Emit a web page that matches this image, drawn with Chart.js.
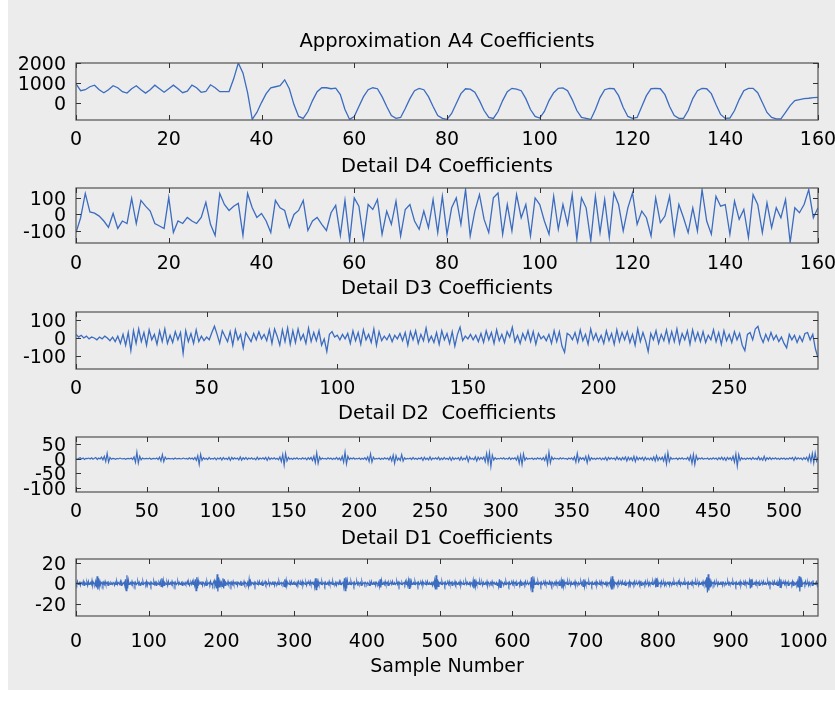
<!DOCTYPE html>
<html>
<head>
<meta charset="utf-8">
<script src="https://cdn.jsdelivr.net/npm/chart.js@4/dist/chart.umd.min.js"></script>
<style>
  html, body { margin: 0; padding: 0; background: #ffffff; }
  #page { position: relative; width: 835px; height: 705px; overflow: hidden; background: #ffffff; }
  #panel { position: absolute; left: 8px; top: 0; width: 827px; height: 690px; background: #ececec; }
  canvas { position: absolute; left: 0; }
</style>
</head>
<body>
<div id="page">
  <div id="panel"></div>
  <canvas id="cA4" width="894" height="120" style="top:30px"></canvas>
  <canvas id="cD4" width="894" height="118" style="top:155px"></canvas>
  <canvas id="cD3" width="894" height="122" style="top:277px"></canvas>
  <canvas id="cD2" width="894" height="120" style="top:402px"></canvas>
  <canvas id="cD1" width="894" height="151" style="top:527px"></canvas>
</div>
<script>
// ---- Wavelet decomposition coefficients (level 4) ----

const A4 = [
  950, 600, 650, 800, 880, 650, 500, 650, 850, 750,
  550, 480, 700, 850, 650, 480, 650, 880, 700, 520,
  700, 880, 700, 500, 580, 880, 750, 520, 560, 900,
  750, 550, 550, 560, 1200, 2000, 1500, 500, -850, -500,
  0, 450, 750, 800, 850, 1150, 700, -100, -700, -800,
  -450, 100, 550, 750, 750, 700, 730, 400, -350, -850,
  -700, -200, 300, 650, 750, 700, 300, -200, -650, -800,
  -750, -300, 200, 600, 720, 650, 300, -200, -650, -800,
  -850, -550, -50, 450, 700, 680, 520, 100, -400, -750,
  -800, -450, 100, 550, 720, 680, 600, 200, -350, -700,
  -780, -450, 100, 500, 720, 740, 600, 150, -400, -750,
  -800, -850, -350, 250, 650, 720, 700, 350, -250, -700,
  -800, -750, -200, 350, 700, 720, 700, 400, -200, -650,
  -800, -800, -400, 200, 600, 720, 700, 450, -100, -600,
  -800, -780, -400, 150, 600, 720, 720, 500, 0, -500,
  -750, -820, -820, -500, -150, 100, 150, 200, 220, 250,
  260
];

const D4 = [
  -110, -20, 127, 15, 8, -10, -40, -78, 6, -85,
  -40, -55, 97, -55, 85, 50, 20, -55, -70, -85,
  103, -109, -40, -55, -18, -40, -55, -18, 73, -60,
  -127, 127, 60, 24, 50, 67, -127, 127, 40, -18,
  6, -40, -109, 85, 40, 24, -78, 0, 24, 85,
  -97, -40, -18, -60, -97, 10, 55, -127, 85, -160,
  100, 50, -150, 60, 30, 90, -120, 20, -60, 80,
  -130, 30, 60, -40, -90, 20, -80, 90, -110, 110,
  -120, 40, 100, -60, 150, -130, 20, 120, -30, -110,
  100, 130, -120, 60, -100, 120, -20, 60, -130, 100,
  60, -40, -120, 110, -90, 60, -60, 120, -150, 100,
  40, -160, 110, -110, 90, -140, 130, 60, -100, 40,
  130, -60, 20, -20, -130, 100, -50, -10, 110, -120,
  60, -20, -110, 40, -100, 150, -40, -120, 110, 50,
  60, -120, 80, -30, 30, -140, 120, 60, -110, 70,
  -80, 40, -20, 90, -170, 40, 10, 60, 150, -20,
  40
];

const D3 = [
  20, 5, 15, 0, 10, -5, 5, 0, -10, 5, -5, 10, 0, -15, 5, -20, 10, -30, 20, -40,
  30, -70, 40, -30, 50, -20, 30, -40, 45, -10, 20, -35, 40, -20, 50, -30, 15, -25, 35, -10,
  30, -85, 40, -20, 25, -30, 45, -20, 10, -15, 5, -10, 30, 65, 20, -30, 40, 10, -20, 35,
  -40, 45, -10, 20, -55, 30, 5, -20, 25, -10, 35, -5, 20, -15, 45, -30, 50, 10, -40, 45,
  -20, 55, -35, 40, -25, 50, -10, 20, -30, 55, -20, 30, -15, 40, -40, -5, -75, 20, 35, 5,
  15, -10, 20, -5, 25, -30, 40, -15, 30, -35, 45, -10, 20, -25, 50, -40, 35, -15, 10, -10,
  20, -20, 15, -5, 25, -15, 30, -40, 35, -10, 40, -30, 20, -15, 55, -20, 10, -25, 30, -35,
  40, -10, 25, -30, 35, -45, 20, 60, -15, 10, -5, 20, -10, 15, -20, 25, -25, 40, -10, 30,
  -30, 45, -15, 20, -25, 35, 5, 60, -20, 15, -30, 25, -10, 40, -20, 35, -35, 25, -5, 10,
  -15, 20, -30, 40, -20, 35, -45, -80, 25, 15, -10, 30, -25, 45, -15, 20, -35, 50, -10, 25,
  -20, 15, -30, 40, -15, 25, -35, 45, -20, 30, -10, 35, -25, 20, -40, 50, -20, 30, -15, -75,
  25, -10, 40, -30, 20, -15, 45, -25, 35, -20, 50, -30, 25, -10, 40, -35, 45, -15, 30, -20,
  35, -25, 15, -10, 45, -20, 30, -35, 40, -15, 20, -25, 35, -10, 25, -40, -70, 20, 30, -10,
  50, 65, 10, -25, 20, -15, 30, -10, 15, -20, 5, -30, -55, 20, -10, 15, -25, 10, -20, 25,
  30, -10, 20, -60, -110
];

const D2 = [
  0, -2, 1, 3, -1, 2, -3, 1, 0, 2, -1, 3, -2, 1, 4, -3, 2, -1, 5, -4, 8, -10, 18, -12, 4,
  -2, 1, 0, -2, 1, -1, 2, 0, -1, 1, -2, 0, 1, -1, 2, -3, 6, -12, 22, -15, 8, -4, 2, -1, 0,
  1, -1, 2, -2, 0, 1, -1, 2, -3, 5, -8, 14, -10, 5, -2, 1, 0, -1, 1, -2, 2, -1, 0, 1, -1,
  0, 2, -1, 1, -2, 3, -1, 2, -3, 4, -6, 10, -20, 15, -6, 3, -2, 1, -3, 4, -2, 1, -1, 3, -4,
  2, -1, 3, -5, 4, -2, 1, -3, 5, -6, 4, -2, 3, -1, 2, -4, 6, -5, 3, -2, 4, -3, 2, -1, 3,
  -2, 1, -4, 5, -3, 2, -1, 3, -2, 4, -6, 5, -3, 2, -1, 3, -2, 1, -4, 6, -10, 14, -22, 18, -8,
  4, -2, 1, -3, 2, -1, 3, -2, 1, -2, 3, -1, 2, -4, 3, -2, 4, -6, 8, -14, 20, -16, 6, -3, 2,
  -1, 1, -2, 3, -1, 2, -3, 1, -2, 4, -3, 2, -5, 8, -12, 22, -18, 8, -3, 2, -1, 3, -2, 1, -1,
  2, -3, 1, -2, 3, -4, 6, -10, 16, -12, 5, -2, 1, -1, 2, -3, 1, -2, 3, -1, 2, -4, 6, -8, 12,
  -16, 10, -5, 2, -6, 14, -8, 3, -2, 1, -1, 2, -3, 4, -2, 1, -3, 2, -1, 4, -6, 5, -3, 2, -4,
  6, -4, 2, -1, 3, -2, 5, -4, 2, -3, 4, -2, 1, -3, 5, -6, 4, -3, 2, -1, 3, -5, 6, -4, 2,
  -3, 8, -10, 6, -2, 1, -4, 6, -8, 5, -3, 4, -2, 6, -10, 18, -14, 20, -27, 12, -5, 3, -2, 1, -1,
  2, -1, 3, -2, 1, -2, 4, -3, 2, -1, 3, -5, 8, -16, 12, -20, 16, -6, 3, -2, 1, -1, 2, -3, 1,
  -2, 3, -1, 2, -4, 3, -6, 10, -18, 22, -14, 6, -3, 2, -1, 1, -2, 3, -1, 2, -1, 1, -3, 2, -1,
  3, -4, 6, -12, 18, -10, 4, -2, 3, -5, 8, -14, 10, -6, 3, -2, 1, -3, 2, -1, 3, -4, 2, -3, 5,
  -6, 4, -2, 3, -1, 2, -4, 6, -3, 2, -5, 4, -3, 6, -8, 5, -4, 3, -6, 8, -10, 6, -4, 3, -2,
  4, -6, 5, -3, 2, -4, 3, -5, 6, -8, 10, -6, 4, -3, 5, -8, 12, -18, 20, -10, 4, -2, 1, -1, 2,
  -3, 2, -1, 3, -2, 1, -2, 4, -6, 10, -16, 14, -20, 10, -4, 2, -1, 3, -2, 1, -1, 2, -3, 1, -2,
  3, -1, 2, -4, 3, -2, 5, -4, 3, -6, 4, -2, 3, -5, 8, -12, 16, -25, 14, -6, 3, -2, 1, -3, 2,
  -1, 2, -3, 4, -2, 1, -3, 6, -4, 2, -5, 8, -6, 3, -2, 4, -3, 2, -1, 3, -2, 1, -3, 2, -1,
  2, -3, 1, -2, 3, -1, 4, -6, 5, -2, 3, -1, 2, -4, 3, -2, 5, -8, 12, -10, 18, -14, 20, -8, 4
];

const D1 = [
  1,-1,2,-1,0,1,-2,1,0,-1,2,-2,1,0,-1,1,-2,2,-1,0,1,-1,3,-2,1,0,-1,2,-4,7,-6,5,-3,2,-1,0,1,-2,1,-1,2,-1,0,1,-2,1,0,-1,1,0,
  -1,1,0,-2,1,-1,2,-1,1,0,-1,2,-2,1,-1,0,1,-2,4,-7,8,-5,3,-1,0,1,-1,2,-1,0,1,-2,1,-1,0,2,-1,1,-2,0,1,-1,2,-1,0,1,-1,2,-2,1,
  0,-1,1,-2,1,0,-1,2,-1,1,-2,1,0,-1,1,-1,2,-3,5,-4,3,-2,1,0,-1,1,-2,2,-1,0,1,-1,2,-1,0,1,-2,1,-1,0,2,-1,1,-1,0,1,-2,1,0,-1,
  1,-1,0,2,-1,1,-2,0,1,-1,2,-1,1,-2,4,-7,6,-5,3,-1,0,1,-1,2,-2,1,0,-1,1,-2,2,-1,0,1,-1,2,-1,0,-2,1,3,-2,1,-5,9,-8,6,-4,2,-1,
  1,-3,5,-5,4,-2,1,0,-1,2,-1,0,1,-2,1,-1,2,-1,0,1,-1,2,-2,1,0,-1,1,-2,1,0,-1,2,-1,1,0,-1,1,-3,4,-3,2,-1,1,0,-1,1,-2,1,0,-1,
  1,-1,2,-1,0,1,-2,1,-1,0,2,-1,1,-1,0,1,-2,1,0,-1,1,-1,2,-2,1,0,-1,1,-1,2,-1,0,1,-1,0,1,-3,4,-4,3,-2,1,0,-1,1,-1,2,-1,0,1,
  -1,1,0,-2,1,-1,2,0,-1,1,-1,2,-2,1,0,-1,1,-2,1,0,1,-1,2,-1,0,1,-1,2,-3,5,-6,5,-4,2,-1,0,1,-1,2,-1,0,1,-2,1,-1,0,1,-1,2,-1,
  0,1,-1,2,-1,0,-1,1,-2,1,0,-1,2,-1,1,-1,0,2,-3,5,-7,6,-5,3,-1,0,1,-1,2,-1,0,1,-2,1,-1,0,2,-1,1,-1,0,1,-2,2,-1,0,1,-1,1,0,
  -1,1,0,-2,1,-1,2,-1,0,1,-1,2,-2,1,0,-1,1,-3,4,-4,3,-1,0,1,-1,2,-1,0,1,-2,1,-1,0,1,-1,2,-1,0,1,-1,0,2,-1,1,-2,1,0,-1,1,-1,
  0,1,-1,2,-1,1,-2,3,-5,5,-4,2,-1,0,1,-1,2,-1,0,1,-2,1,-1,0,1,-1,2,-2,1,0,-1,1,-1,2,-1,0,1,-1,0,1,-2,1,-1,3,-6,8,-6,4,-3,1,
  0,1,-1,2,-1,0,1,-2,1,-1,0,1,-1,2,-1,0,1,-2,1,0,-1,2,-1,1,-1,0,1,-1,2,-2,1,0,-1,1,-1,0,2,-1,1,-1,0,1,-2,1,0,-2,3,-5,4,-3,
  2,-1,0,1,-1,2,-1,0,1,-2,1,-1,0,1,-1,2,-2,1,0,-1,1,-1,2,-1,0,1,-1,0,1,-2,1,-3,4,-4,3,-2,1,0,-1,1,-1,2,-1,0,1,-2,1,-1,0,1,
  -1,2,-1,0,1,-2,1,-1,0,1,-1,2,-2,1,0,-1,1,-1,2,-1,0,1,-1,0,2,-3,6,-8,7,-5,3,-1,0,1,-1,2,-1,0,1,-2,1,-1,0,1,-1,2,-1,0,1,-1,
  0,2,-1,1,-2,1,0,-1,1,-1,2,-1,0,1,-2,1,-1,3,-5,4,-3,2,-1,0,1,-1,2,-1,0,1,-2,1,-1,0,1,-1,2,-2,1,0,-1,1,-1,0,2,-1,1,-3,4,-3,
  2,-1,0,1,-1,2,-1,0,1,-2,1,-1,0,1,-1,2,-2,1,0,-1,1,-1,2,-1,0,1,-1,0,1,-2,1,-1,0,1,-1,3,-6,7,-6,4,-2,1,0,-1,1,-1,2,-1,0,1,
  -1,2,-1,0,1,-2,1,-1,0,1,-1,2,-2,1,0,-1,1,-1,2,-1,0,1,-1,0,2,-1,1,-2,1,0,-1,1,-1,2,-1,0,1,-2,1,-1,0,1,-1,2,-1,0,3,-4,5,-3,
  2,-1,0,1,-1,2,-1,0,1,-2,1,-1,0,1,-1,2,-2,1,0,-1,1,-1,2,-1,0,1,-1,0,2,-1,1,-2,1,0,-1,1,-1,2,-1,0,1,-2,1,-1,0,1,-1,2,-1,0,
  1,-1,2,-1,0,1,-2,1,-1,0,1,-1,2,-1,0,2,-4,6,-9,9,-7,5,-4,2,-1,0,1,-1,2,-1,0,1,-2,1,-1,0,1,-1,2,-2,1,0,-1,1,-1,0,2,-1,1,-1,
  0,1,-1,2,-1,0,1,-2,1,-1,0,1,-1,2,-2,1,0,-1,1,-1,2,-1,0,1,-1,0,3,-5,4,-4,2,-1,0,1,-1,2,-1,0,1,-2,1,-1,0,1,-1,2,-1,0,1,-1,
  0,2,-1,1,-2,1,0,-1,1,-1,2,-1,0,1,-2,1,-1,3,-4,4,-2,1,0,1,-1,2,-1,0,1,-2,1,-1,0,1,-1,2,-2,1,0,-1,1,-1,2,-4,7,-8,6,-3,2,-1,
  0,1,-1,2,-1,0,1,-2,1,-1,0,1,-2,3,-1,0,-1,1,2,-2,1
];

// ---- Axis ranges and tick labels ----
const X_TICKS_160 = [0, 20, 40, 60, 80, 100, 120, 140, 160];
const X_TICKS_D3 = [0, 50, 100, 150, 200, 250];
const X_TICKS_D2 = [0, 50, 100, 150, 200, 250, 300, 350, 400, 450, 500];
const X_TICKS_D1 = [0, 100, 200, 300, 400, 500, 600, 700, 800, 900, 1000];

const Y_TICKS_A4 = [0, 1000, 2000];
const Y_TICKS_D4 = [-100, 0, 100];
const Y_TICKS_D3 = [-100, 0, 100];
const Y_TICKS_D2 = [-100, -50, 0, 50];
const Y_TICKS_D1 = [-20, 0, 20];

const X_MAX = { A4: 160, D4: 160, D3: 284, D2: 524, D1: 1020 };
const Y_RANGE = {
  A4: [-880, 2000],
  D4: [-173, 160],
  D3: [-172, 144],
  D2: [-114, 74],
  D1: [-32, 24]
};

const TITLES = {
  A4: 'Approximation A4 Coefficients',
  D4: 'Detail D4 Coefficients',
  D3: 'Detail D3 Coefficients',
  D2: 'Detail D2  Coefficients',
  D1: 'Detail D1 Coefficients'
};
const X_AXIS_TITLE = 'Sample Number';

// ---- Styling ----
const FONT_FAMILY = '"DejaVu Sans", Verdana, sans-serif';
const LINE_COLOR = '#3b6cc0';
const FRAME_COLOR = '#5c5c5c';
const AXIS_GUTTER = 76;   // width of the tick-label column; mirrored on the right so titles centre over the plot

Chart.defaults.font.family = FONT_FAMILY;
Chart.defaults.color = '#000';

// Draws the box around the plot area and the short inward tick marks on all four sides.
const frameBox = {
  id: 'frameBox',
  afterDatasetsDraw(chart) {
    const { ctx, chartArea: a, scales } = chart;
    const xs = scales.x, ys = scales.y;
    ctx.save();
    ctx.strokeStyle = FRAME_COLOR;
    ctx.lineWidth = 1.3;
    ctx.strokeRect(a.left, a.top, a.right - a.left, a.bottom - a.top);
    ctx.lineWidth = 1;
    ctx.strokeStyle = '#333';
    ctx.beginPath();
    const tl = 5;
    xs.ticks.forEach(t => {
      const px = Math.round(xs.getPixelForValue(t.value)) + 0.5;
      ctx.moveTo(px, a.bottom); ctx.lineTo(px, a.bottom - tl);
      ctx.moveTo(px, a.top); ctx.lineTo(px, a.top + tl);
    });
    ys.ticks.forEach(t => {
      const py = Math.round(ys.getPixelForValue(t.value)) + 0.5;
      ctx.moveTo(a.left, py); ctx.lineTo(a.left + tl, py);
      ctx.moveTo(a.right, py); ctx.lineTo(a.right - tl, py);
    });
    ctx.stroke();
    ctx.restore();
  }
};

function makePanel(canvasId, key, values, xTicks, yTicks, opts) {
  const points = values.map((v, i) => ({ x: i, y: v }));
  const xTitle = opts.xTitle || null;
  return new Chart(document.getElementById(canvasId), {
    type: 'line',
    data: {
      datasets: [{
        data: points,
        borderColor: LINE_COLOR,
        borderWidth: opts.lineWidth || 1.3,
        pointRadius: 0,
        tension: 0,
        fill: false,
        yAxisID: 'y'
      }]
    },
    options: {
      responsive: false,
      animation: false,
      devicePixelRatio: 1,
      parsing: false,
      normalized: true,
      layout: { padding: { left: 0, right: 0, top: 0, bottom: 0 } },
      plugins: {
        legend: { display: false },
        tooltip: { enabled: false },
        title: {
          display: true,
          text: TITLES[key],
          color: '#000',
          font: { size: 19.5, weight: 'normal', family: FONT_FAMILY },
          padding: { top: 0, bottom: opts.titleGap }
        }
      },
      scales: {
        x: {
          type: 'linear',
          min: 0,
          max: X_MAX[key],
          grid: { display: false, drawTicks: false },
          border: { display: false },
          ticks: {
            autoSkip: false,
            maxRotation: 0,
            padding: opts.xPad,
            color: '#000',
            font: { size: 19, family: FONT_FAMILY },
            callback: v => String(v)
          },
          title: xTitle ? {
            display: true,
            text: xTitle,
            color: '#000',
            font: { size: 19, family: FONT_FAMILY },
            padding: { top: 0, bottom: 0 }
          } : { display: false },
          afterBuildTicks: s => { s.ticks = xTicks.map(v => ({ value: v })); },
          afterFit: s => { s.height = opts.xHeight; }
        },
        y: {
          type: 'linear',
          position: 'left',
          min: Y_RANGE[key][0],
          max: Y_RANGE[key][1],
          grid: { display: false, drawTicks: false },
          border: { display: false },
          ticks: {
            autoSkip: false,
            padding: 10,
            labelOffset: 2,
            color: '#000',
            font: { size: 19, family: FONT_FAMILY },
            callback: v => String(v)
          },
          afterBuildTicks: s => { s.ticks = yTicks.map(v => ({ value: v })); },
          afterFit: s => { s.width = AXIS_GUTTER; }
        },
        yGutter: {
          type: 'linear',
          position: 'right',
          min: Y_RANGE[key][0],
          max: Y_RANGE[key][1],
          grid: { display: false, drawTicks: false },
          border: { display: false },
          ticks: { display: false },
          afterFit: s => { s.width = AXIS_GUTTER; }
        }
      }
    },
    plugins: [frameBox]
  });
}

makePanel('cA4', 'A4', A4, X_TICKS_160, Y_TICKS_A4, { titleGap: 9.6, xPad: 8.6, xHeight: 30 });
makePanel('cD4', 'D4', D4, X_TICKS_160, Y_TICKS_D4, { titleGap: 9.6, xPad: 10, xHeight: 30 });
makePanel('cD3', 'D3', D3, X_TICKS_D3, Y_TICKS_D3, { titleGap: 11.6, xPad: 8.6, xHeight: 30 });
makePanel('cD2', 'D2', D2, X_TICKS_D2, Y_TICKS_D2, { titleGap: 11.6, xPad: 8.6, xHeight: 30, lineWidth: 1.2 });
makePanel('cD1', 'D1', D1, X_TICKS_D1, Y_TICKS_D1, { titleGap: 8.6, xPad: 15, xHeight: 62, lineWidth: 1.2, xTitle: X_AXIS_TITLE });
</script>
</body>
</html>
